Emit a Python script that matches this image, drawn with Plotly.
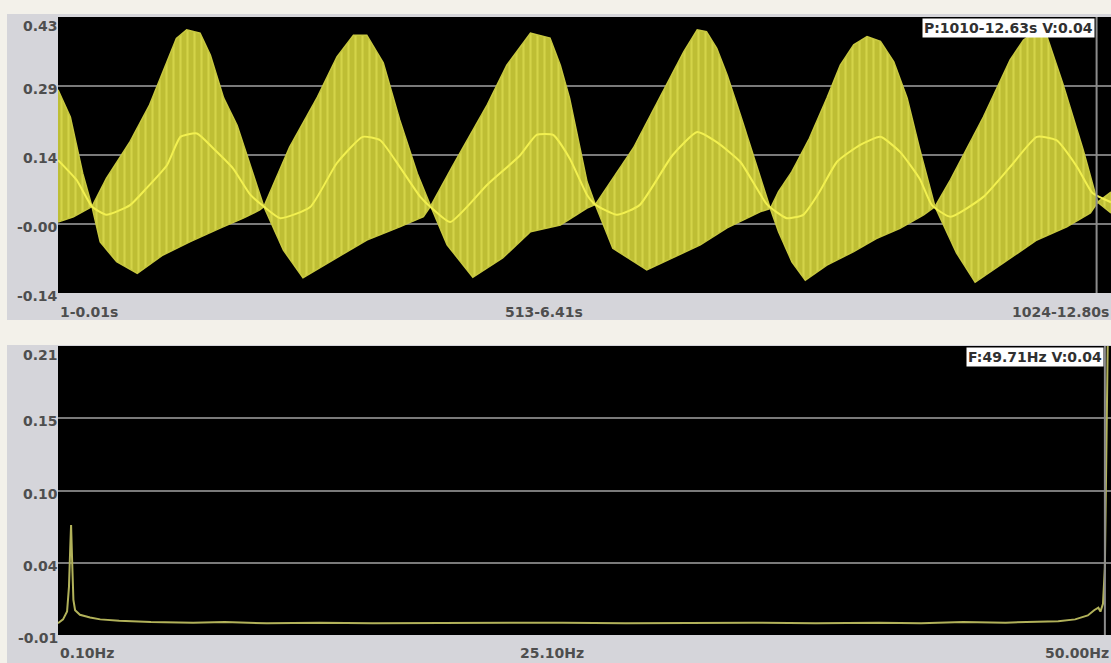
import plotly.graph_objects as go

# ---------------- data ----------------
# time-domain panel (x = sample index 1..1024)
upper_n = [1, 13, 25, 34, 48, 71, 90, 103, 116, 126, 139, 149, 162, 175, 188, 201,
           226, 253, 272, 288, 301, 317, 333, 350, 363,
           385, 418, 437, 460, 479, 489, 498, 515, 523,
           560, 593, 609, 622, 631, 641, 651, 664, 683, 693,
           701, 714, 731, 748, 761, 774, 787, 800, 813, 826, 838, 848, 853,
           868, 900, 926, 939, 948, 962, 977, 997, 1011, 1024]
upper_v = [0.277, 0.221, 0.105, 0.036, 0.094, 0.170, 0.246, 0.315, 0.383, 0.401, 0.394, 0.349, 0.260, 0.204, 0.122,
           0.036,
           0.159, 0.262, 0.345, 0.390, 0.390, 0.333, 0.215, 0.105, 0.037,
           0.122, 0.246, 0.328, 0.394, 0.384, 0.328, 0.260, 0.087, 0.040,
           0.157, 0.293, 0.356, 0.401, 0.397, 0.363, 0.308, 0.225, 0.101, 0.032,
           0.067, 0.108, 0.177, 0.260, 0.328, 0.370, 0.387, 0.377, 0.335, 0.260, 0.156, 0.074, 0.036,
           0.091, 0.221, 0.339, 0.380, 0.394, 0.386, 0.291, 0.153, 0.045, 0.066]

lower_n = [1, 16, 34, 42, 58, 78, 103, 129, 158, 181, 197, 201,
           220, 239, 268, 301, 333, 356, 363,
           379, 404, 433, 460, 489, 515, 523,
           540, 573, 625, 651, 683, 693,
           701, 714, 727, 748, 774, 796, 819, 842, 853,
           874, 892, 919, 952, 981, 1004, 1011, 1024]
lower_v = [0.004, 0.015, 0.036, -0.037, -0.078, -0.102, -0.064, -0.037, -0.009, 0.012, 0.029, 0.036,
           -0.054, -0.111, -0.074, -0.033, -0.006, 0.015, 0.037,
           -0.043, -0.110, -0.070, -0.016, -0.002, 0.033, 0.040,
           -0.050, -0.095, -0.043, -0.008, 0.025, 0.032,
           -0.016, -0.078, -0.116, -0.085, -0.057, -0.030, -0.009, 0.019, 0.036,
           -0.060, -0.120, -0.080, -0.033, -0.006, 0.023, 0.045, 0.023]

mean_n = [1, 19, 34, 48, 71, 87, 107, 120, 136, 152, 171, 188, 201,
          217, 246, 272, 297, 314, 333, 353, 364,
          382, 418, 450, 466, 482, 498, 515, 523,
          544, 566, 598, 622, 641, 664, 690,
          709, 725, 741, 758, 780, 800, 819, 838, 850,
          868, 900, 926, 952, 971, 991, 1006, 1024]
mean_v = [0.132, 0.091, 0.036, 0.019, 0.039, 0.074, 0.122, 0.180, 0.187, 0.156, 0.115, 0.060, 0.036,
          0.012, 0.035, 0.126, 0.180, 0.173, 0.118, 0.056, 0.033,
          0.004, 0.081, 0.142, 0.184, 0.184, 0.136, 0.060, 0.040,
          0.019, 0.039, 0.142, 0.190, 0.169, 0.128, 0.040,
          0.012, 0.019, 0.067, 0.129, 0.163, 0.180, 0.149, 0.094, 0.039,
          0.015, 0.056, 0.118, 0.180, 0.173, 0.118, 0.064, 0.045]

# spectrum panel (x = frequency, Hz)
spec_f = [0.10, 0.34, 0.53, 0.62, 0.68, 0.72, 0.77, 0.83, 0.91, 1.14, 1.62, 2.1, 3.0, 4.5, 6.5, 8.0, 10.0, 12.5,
          15.0, 18.0, 21.0, 24.0, 27.0, 30.0, 33.0, 36.0, 39.0, 41.0, 43.0, 45.0, 46.5, 47.5, 48.3, 48.9, 49.2,
          49.4, 49.5, 49.62, 49.71, 49.80, 49.86, 50.0]
spec_v = [-0.003, 0.000, 0.006, 0.025, 0.055, 0.0725, 0.045, 0.015, 0.007, 0.0035, 0.0015, 0.000, -0.001, -0.002,
          -0.0025, -0.002, -0.003, -0.0025, -0.003, -0.0028, -0.003, -0.0025, -0.003, -0.0028, -0.0025, -0.003,
          -0.0025, -0.003, -0.002, -0.0025, -0.002, -0.0015, 0.000, 0.003, 0.007, 0.009, 0.006, 0.012, 0.04, 0.15,
          0.23, 0.23]

# axes / labels
t_range = [1, 1024]
t_yrange = [-0.1425, 0.4275]
t_ytick_vals = [0.4275, 0.285, 0.1425, 0.0, -0.1425]
t_ytick_text = ["0.43", "0.29", "0.14", "-0.00", "-0.14"]
t_xtick_vals = [1, 513, 1024]
t_xtick_text = ["1-0.01s", "513-6.41s", "1024-12.80s"]
cursor_sample = 1010
t_readout = "P:1010-12.63s V:0.04"

f_range = [0.10, 50.0]
f_yrange = [-0.012, 0.21]
f_ytick_vals = [0.21, 0.1545, 0.099, 0.0435, -0.012]
f_ytick_text = ["0.21", "0.15", "0.10", "0.04", "-0.01"]
f_xtick_vals = [0.10, 25.10, 50.0]
f_xtick_text = ["0.10Hz", "25.10Hz", "50.00Hz"]
cursor_freq = 49.71
f_readout = "F:49.71Hz V:0.04"

# ---------------- figure ----------------
W, H = 1111, 663
GRAY = "#d5d5da"
OFFWHITE = "#f3f1ea"
GRID = "#7a7a7a"
TXT = "#4e4e4e"
FONT = "DejaVu Sans"

def py(px):
    return 1 - px / H

def pxx(px):
    return px / W

fig = go.Figure()

band_x = upper_n + lower_n[::-1]
band_y = upper_v + lower_v[::-1]
fig.add_trace(go.Scatter(
    x=band_x, y=band_y, mode="lines", fill="toself",
    fillcolor="#c4c43a",
    fillpattern=dict(shape="|", fgcolor="#eaea5c", bgcolor="#bebe34", size=7, solidity=0.3),
    line=dict(color="#c8c840", width=1.5),
    xaxis="x", yaxis="y", hoverinfo="skip", showlegend=False))
fig.add_trace(go.Scatter(
    x=mean_n, y=mean_v, mode="lines", line=dict(color="#f2f050", width=2, shape="spline", smoothing=0.5),
    xaxis="x", yaxis="y", showlegend=False))

fig.add_trace(go.Scatter(
    x=spec_f, y=spec_v, mode="lines", line=dict(color="#b2b25a", width=2),
    xaxis="x2", yaxis="y2", showlegend=False))

x0 = pxx(58)
fig.update_layout(
    width=W, height=H,
    margin=dict(l=0, r=0, t=0, b=0),
    paper_bgcolor=GRAY, plot_bgcolor="#000000",
    showlegend=False,
    xaxis=dict(domain=[x0, 1], range=t_range, showgrid=False, zeroline=False, showticklabels=False,
               ticks="", anchor="y"),
    yaxis=dict(domain=[py(293), py(17)], range=t_yrange, tickvals=t_ytick_vals[1:4], showgrid=True,
               gridcolor=GRID, gridwidth=2, zeroline=False, showticklabels=False, ticks="", anchor="x"),
    xaxis2=dict(domain=[x0, 1], range=f_range, showgrid=False, zeroline=False, showticklabels=False,
                ticks="", anchor="y2"),
    yaxis2=dict(domain=[py(635), py(346)], range=f_yrange, tickvals=f_ytick_vals[1:4], showgrid=True,
                gridcolor=GRID, gridwidth=2, zeroline=False, showticklabels=False, ticks="", anchor="x2"),
)

shapes = [
    dict(type="rect", xref="paper", yref="paper", x0=0, x1=1, y0=py(14), y1=1,
         fillcolor=OFFWHITE, line=dict(width=0), layer="below"),
    dict(type="rect", xref="paper", yref="paper", x0=0, x1=1, y0=py(345), y1=py(320),
         fillcolor=OFFWHITE, line=dict(width=0), layer="below"),
    dict(type="rect", xref="paper", yref="paper", x0=0, x1=pxx(7), y0=0, y1=1,
         fillcolor=OFFWHITE, line=dict(width=0), layer="below"),
    dict(type="line", xref="x", yref="paper", x0=cursor_sample, x1=cursor_sample, y0=py(293), y1=py(17),
         line=dict(color="#8c8c8c", width=2)),
    dict(type="line", xref="x2", yref="paper", x0=cursor_freq, x1=cursor_freq, y0=py(635), y1=py(346),
         line=dict(color="#8c8c8c", width=2)),
]
fig.update_layout(shapes=shapes)

ann = []
lab_font = dict(family=FONT, size=14, color=TXT, weight="bold")
for i, (v, t) in enumerate(zip(t_ytick_vals, t_ytick_text)):
    ann.append(dict(xref="paper", yref="y", x=x0, y=v, text=t, showarrow=False, xanchor="right",
                    yanchor="top" if i == 0 else "middle", xshift=2, yshift=1 if i == 0 else -3,
                    font=lab_font))
for i, (v, t) in enumerate(zip(f_ytick_vals, f_ytick_text)):
    ann.append(dict(xref="paper", yref="y2", x=x0, y=v, text=t, showarrow=False, xanchor="right",
                    yanchor="top" if i == 0 else "middle", xshift=2, yshift=1 if i == 0 else -3,
                    font=lab_font))
anchors = ["left", "right", "right"]
for v, t, a in zip(t_xtick_vals, t_xtick_text, anchors):
    ann.append(dict(xref="x", yref="paper", x=v, y=py(312), text=t, showarrow=False, xanchor=a,
                    yanchor="middle", font=lab_font))
for v, t, a in zip(f_xtick_vals, f_xtick_text, anchors):
    ann.append(dict(xref="x2", yref="paper", x=v, y=py(653), text=t, showarrow=False, xanchor=a,
                    yanchor="middle", font=lab_font))
box_font = dict(family=FONT, size=14, color="#303030", weight="bold")
ann.append(dict(xref="x", yref="paper", x=cursor_sample, y=py(18), text=t_readout, showarrow=False,
                xanchor="right", yanchor="top", xshift=-2, bgcolor="#ffffff", borderpad=1, font=box_font))
ann.append(dict(xref="x2", yref="paper", x=cursor_freq, y=py(347), text=f_readout, showarrow=False,
                xanchor="right", yanchor="top", xshift=-1, bgcolor="#ffffff", borderpad=1, font=box_font))
fig.update_layout(annotations=ann)

fig.write_html("out.html", config={"displayModeBar": False})

# remove the default page margin so the figure sits at the window's top-left corner
with open("out.html", "r", encoding="utf-8") as fh:
    html = fh.read()
html = html.replace("<head>", "<head><style>html,body{margin:0;padding:0;overflow:hidden;}</style>", 1)
with open("out.html", "w", encoding="utf-8") as fh:
    fh.write(html)
